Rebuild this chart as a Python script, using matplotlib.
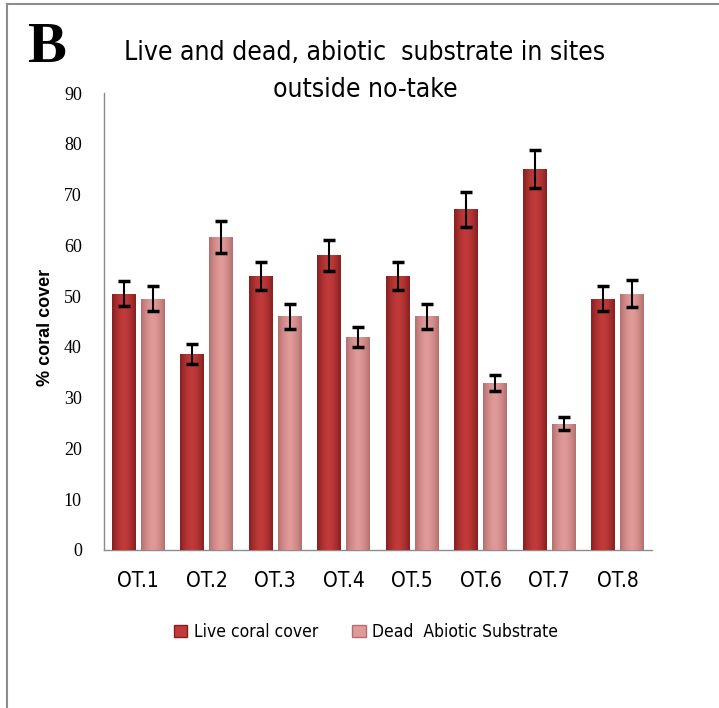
import numpy as np
import matplotlib.pyplot as plt
from matplotlib.lines import Line2D
from matplotlib.patches import Patch
from matplotlib import font_manager as fm

sites = ['OT.1', 'OT.2', 'OT.3', 'OT.4', 'OT.5', 'OT.6', 'OT.7', 'OT.8']
live = [50.5, 38.6, 54.0, 58.0, 54.0, 67.1, 75.0, 49.5]
live_err = [2.5, 1.9, 2.7, 3.0, 2.7, 3.5, 3.8, 2.5]
dead = [49.5, 61.6, 46.0, 42.0, 46.0, 32.9, 24.9, 50.5]
dead_err = [2.5, 3.1, 2.4, 2.0, 2.4, 1.6, 1.2, 2.6]

# narrow sans if the condensed DejaVu face is around, otherwise shrink size
cond = 'Condensed' in fm.findfont(fm.FontProperties(family='DejaVu Sans', stretch='condensed'))
k = 1.0 if cond else 0.85
narrow = dict(family=['DejaVu Sans'], stretch='condensed')

W, H = 719, 708
fig = plt.figure(figsize=(W / 100, H / 100), dpi=100)
ax = fig.add_axes([104 / W, 1 - 550 / H, (652 - 104) / W, (550 - 93) / H])

x = np.arange(len(sites))
bw = 0.35
off = 0.21
cols = [('#862020', '#c13b3a'), ('#b46e6e', '#e09b99')]


def gradient_bars(xs, vals, c):
    bars = ax.bar(xs, vals, bw, color=c[1], edgecolor='none', zorder=2)
    t = np.linspace(-1, 1, 64)
    w = np.abs(t) ** 1.6
    a = np.array(plt.matplotlib.colors.to_rgb(c[0]))
    b = np.array(plt.matplotlib.colors.to_rgb(c[1]))
    img = (b[None, :] * (1 - w[:, None]) + a[None, :] * w[:, None])[None, :, :]
    for r in bars:
        x0, y0 = r.get_x(), r.get_y()
        im = ax.imshow(img, extent=[x0, x0 + r.get_width(), y0, y0 + r.get_height()],
                       aspect='auto', zorder=3, interpolation='bicubic')
        im.set_clip_path(r)
    return bars


gradient_bars(x - off, live, cols[0])
gradient_bars(x + off, dead, cols[1])
ax.errorbar(x - off, live, yerr=live_err, fmt='none', ecolor='black', elinewidth=1.5,
            capsize=4, capthick=2.5, zorder=4)
ax.errorbar(x + off, dead, yerr=dead_err, fmt='none', ecolor='black', elinewidth=1.5,
            capsize=4, capthick=2.5, zorder=4)

ax.set_xlim(-0.5, len(sites) - 0.5)
ax.set_ylim(0, 90)
ax.set_yticks(range(0, 91, 10))
ax.set_xticks(x)
ax.set_xticklabels(sites, fontsize=15 * k, **narrow)
ax.tick_params(axis='x', length=0, pad=15)
ax.tick_params(axis='y', length=0, pad=16)
for lab in ax.get_yticklabels():
    lab.set_family(['Liberation Serif', 'DejaVu Serif'])
    lab.set_fontsize(13)
for s in ['top', 'right']:
    ax.spines[s].set_visible(False)
for s in ['left', 'bottom']:
    ax.spines[s].set_color('#8c8c8c')
    ax.spines[s].set_linewidth(1)
ax.set_autoscale_on(False)

fig.text(45 / W, 1 - 327 / H, '% coral cover', rotation=90, ha='center', va='center',
         fontsize=13, fontweight='bold', family=['Liberation Sans', 'DejaVu Sans'])
fig.text(365 / W, 1 - 53 / H, 'Live and dead, abiotic  substrate in sites',
         ha='center', va='center', fontsize=19 * k, **narrow)
fig.text(365 / W, 1 - 90 / H, 'outside no-take',
         ha='center', va='center', fontsize=19 * k, **narrow)
fig.text(46 / W, 1 - 48 / H, 'B', ha='center', va='center', fontsize=42,
         fontweight='bold', family=['Liberation Serif', 'DejaVu Serif'])

handles = [Patch(facecolor=cols[0][1], edgecolor=cols[0][0]),
           Patch(facecolor=cols[1][1], edgecolor=cols[1][0])]
fig.legend(handles, ['Live coral cover', 'Dead  Abiotic Substrate'], ncol=2,
           loc='center', bbox_to_anchor=(366 / W, 1 - 632 / H), frameon=False,
           handlelength=0.75, handleheight=0.75, handletextpad=0.4, columnspacing=2.0,
           prop=fm.FontProperties(family='DejaVu Sans', stretch='condensed', size=12.5 * k))

# page border lines (top and left)
fig.add_artist(Line2D([7 / W, 1], [1 - 4 / H, 1 - 4 / H], color='#8c8c8c', lw=1.5,
                      transform=fig.transFigure))
fig.add_artist(Line2D([7 / W, 7 / W], [1 - 4 / H, 0], color='#8c8c8c', lw=1.5,
                      transform=fig.transFigure))

fig.savefig('out.png', dpi=100)
